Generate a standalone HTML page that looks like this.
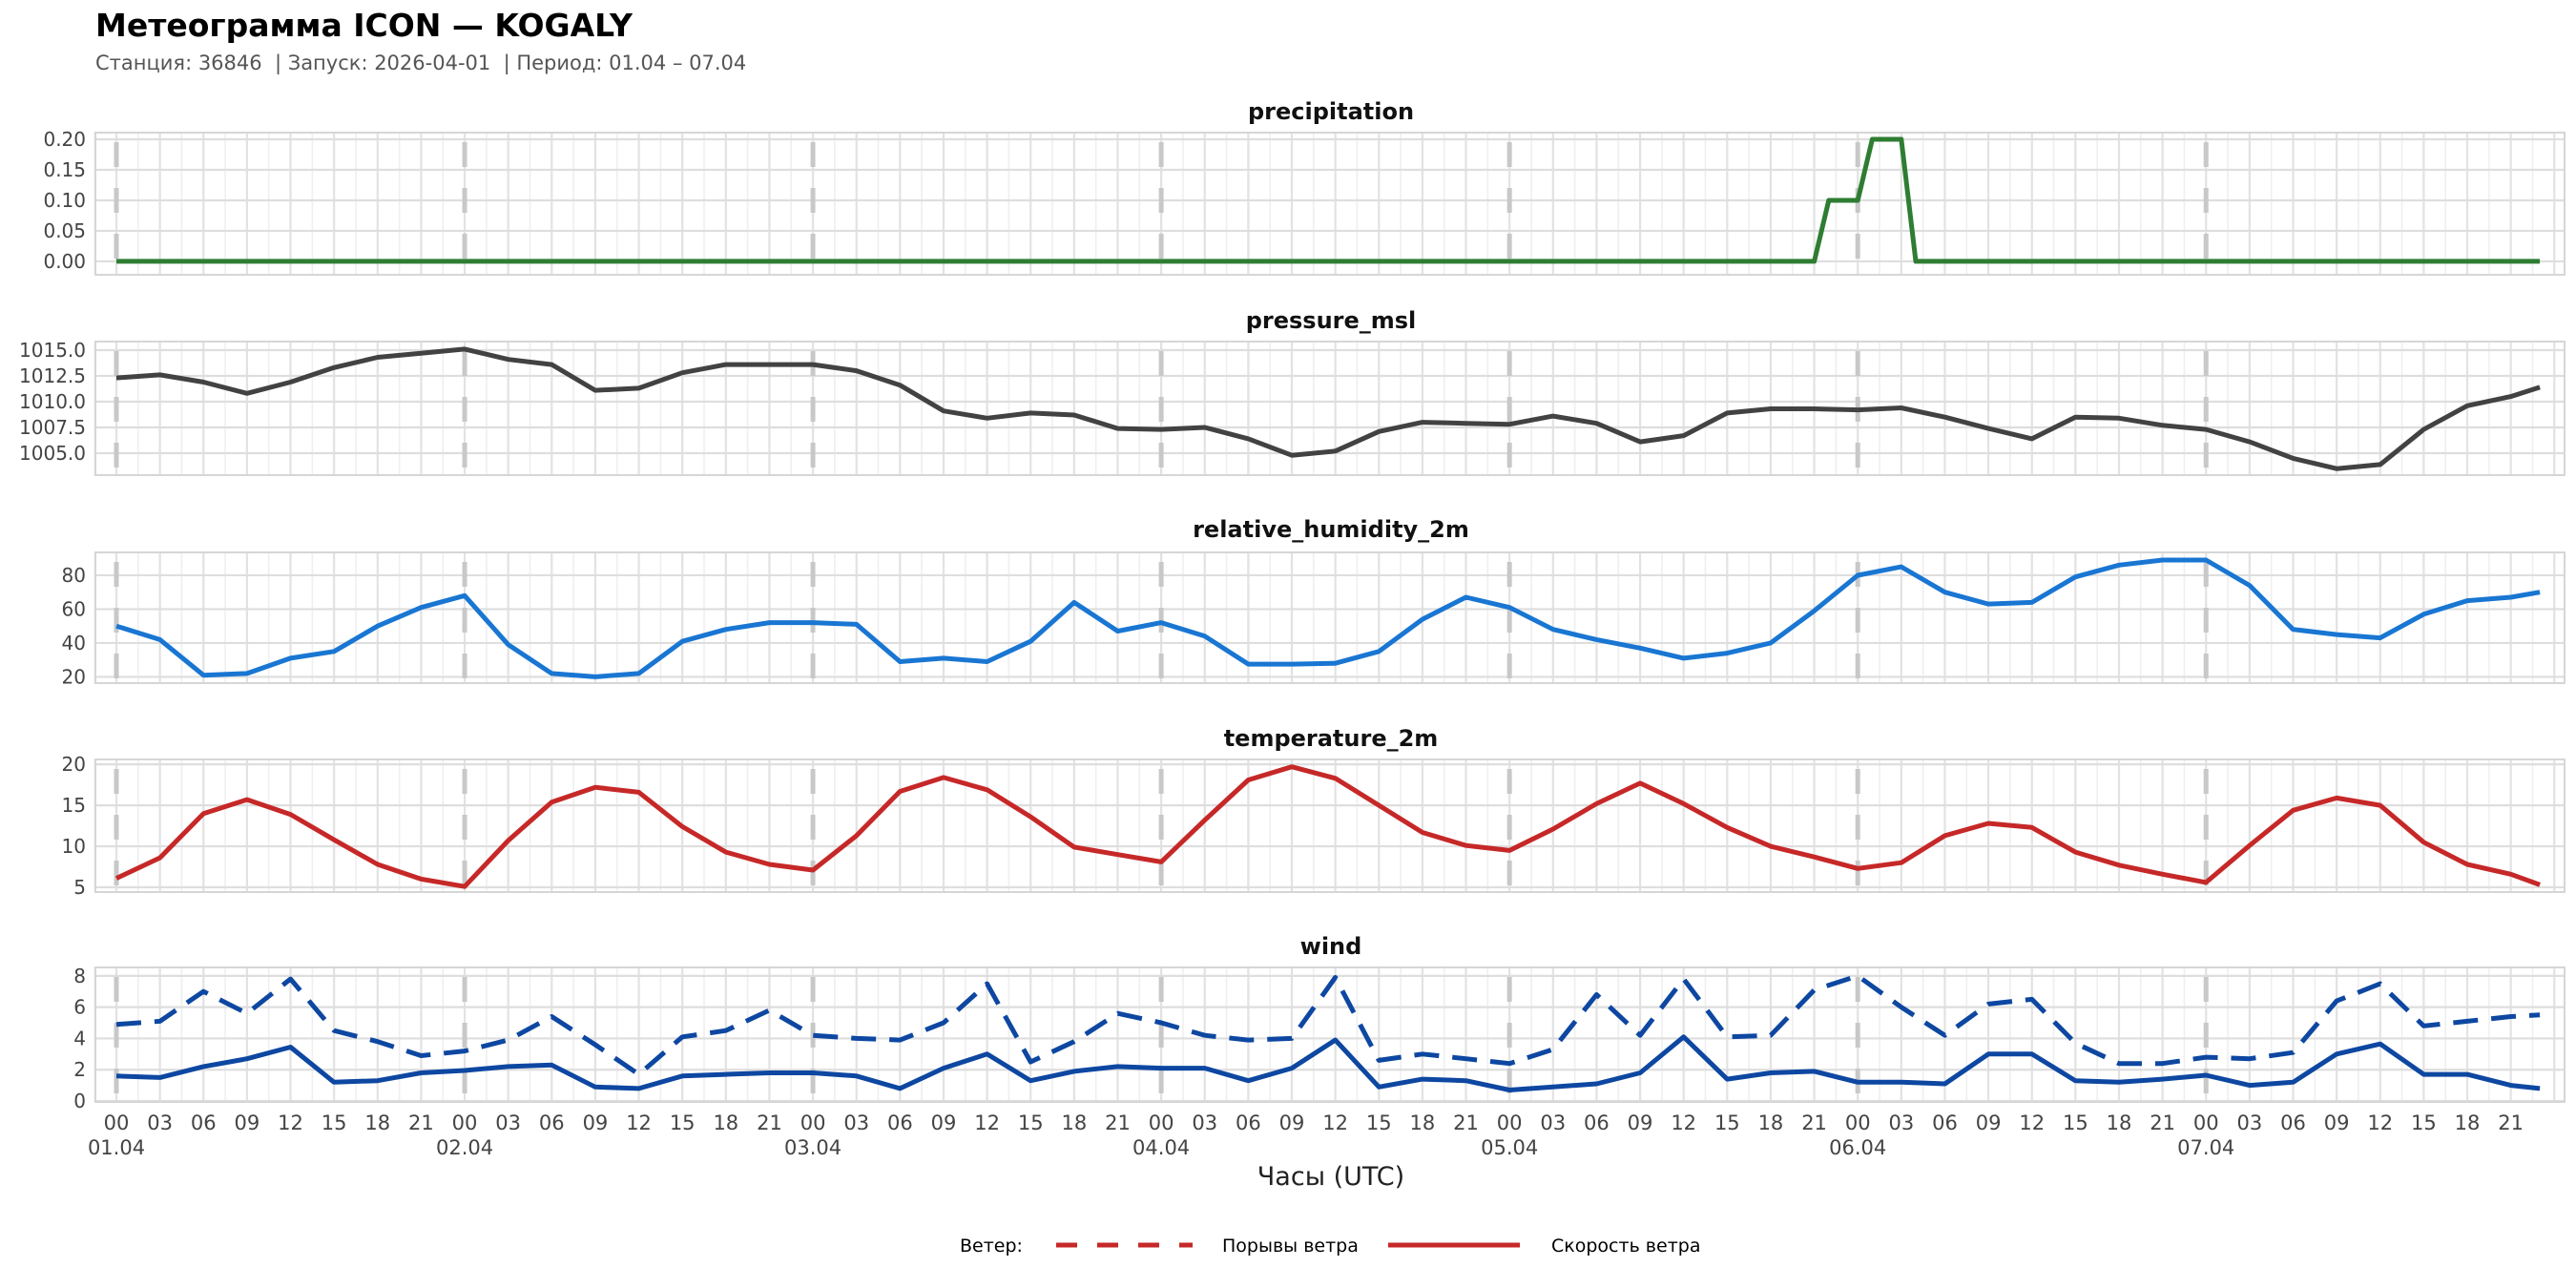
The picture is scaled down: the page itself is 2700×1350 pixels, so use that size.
<!DOCTYPE html>
<html><head><meta charset="utf-8">
<style>
html,body{margin:0;padding:0;background:#fff;}
svg{display:block;font-family:"DejaVu Sans","Liberation Sans",sans-serif;}
.pre{white-space:pre;}
</style></head>
<body>
<svg id="chart" width="2700" height="1350" viewBox="0 0 2700 1350" xmlns="http://www.w3.org/2000/svg">
<rect x="0" y="0" width="2700" height="1350" fill="#fff"/>
<text x="100" y="38" font-size="33" font-weight="bold" fill="#000">Метеограмма ICON — KOGALY</text>
<text class="pre" xml:space="preserve" x="100" y="73" font-size="21" fill="#555">Станция: 36846  | Запуск: 2026-04-01  | Период: 01.04 – 07.04</text>
<g id="panels"></g>
<text x="1395" y="1242" font-size="27" text-anchor="middle" fill="#222">Часы (UTC)</text>
<g>
<text x="1006" y="1312" font-size="19" fill="#000">Ветер:</text>
<line x1="1107" y1="1305" x2="1250" y2="1305" stroke="#c62828" stroke-width="5" stroke-dasharray="22 21"/>
<text x="1281" y="1312" font-size="19" fill="#000">Порывы ветра</text>
<line x1="1455" y1="1305" x2="1593" y2="1305" stroke="#c62828" stroke-width="5"/>
<text x="1626" y="1312" font-size="19" fill="#000">Скорость ветра</text>
</g>
</svg>
<script>
// ---- data ----
const hours3 = [0,3,6,9,12,15,18,21,24,27,30,33,36,39,42,45,48,51,54,57,60,63,66,69,72,75,78,81,84,87,90,93,96,99,102,105,108,111,114,117,120,123,126,129,132,135,138,141,144,147,150,153,156,159,162,165,167];
const precipHours = [0,117,118,120,121,123,124,167];
const precipValues = [0,0,0.1,0.1,0.2,0.2,0,0];
const pressureValues = [1012.3,1012.6,1011.9,1010.8,1011.9,1013.3,1014.3,1014.7,1015.1,1014.1,1013.6,1011.1,1011.3,1012.8,1013.6,1013.6,1013.6,1013.0,1011.6,1009.1,1008.4,1008.9,1008.7,1007.4,1007.3,1007.5,1006.4,1004.8,1005.2,1007.1,1008.0,1007.9,1007.8,1008.6,1007.9,1006.1,1006.7,1008.9,1009.3,1009.3,1009.2,1009.4,1008.5,1007.4,1006.4,1008.5,1008.4,1007.7,1007.3,1006.1,1004.5,1003.5,1003.9,1007.3,1009.6,1010.5,1011.4];
const humidityValues = [50,42,21,22,31,35,50,61,68,39,22,20,22,41,48,52,52,51,29,31,29,41,64,47,52,44,27.5,27.5,28,35,54,67,61,48,42,37,31,34,40,59,80,85,70,63,64,79,86,89,89,74,48,45,43,57,65,67,70];
const temperatureValues = [6.1,8.6,14.0,15.7,13.9,10.8,7.8,6.0,5.1,10.7,15.4,17.2,16.6,12.4,9.3,7.8,7.1,11.3,16.7,18.4,16.9,13.6,9.9,9.0,8.1,13.2,18.1,19.7,18.3,15.0,11.7,10.1,9.5,12.1,15.2,17.7,15.2,12.3,10.0,8.7,7.3,8.0,11.3,12.8,12.3,9.3,7.7,6.6,5.6,10.1,14.4,15.9,15.0,10.5,7.8,6.6,5.3];
const windSpeedValues = [1.6,1.5,2.2,2.7,3.45,1.2,1.3,1.8,1.95,2.2,2.3,0.9,0.8,1.6,1.7,1.8,1.8,1.6,0.8,2.1,3.0,1.3,1.9,2.2,2.1,2.1,1.3,2.1,3.9,0.9,1.4,1.3,0.7,0.9,1.1,1.8,4.1,1.4,1.8,1.9,1.2,1.2,1.1,3.0,3.0,1.3,1.2,1.4,1.65,1.0,1.2,3.0,3.65,1.7,1.7,1.0,0.8];
const windGustValues = [4.9,5.1,7.0,5.6,7.8,4.5,3.8,2.9,3.2,3.9,5.4,3.6,1.7,4.1,4.5,5.8,4.2,4.0,3.9,5.0,7.5,2.5,3.8,5.6,5.0,4.2,3.9,4.0,7.9,2.6,3.0,2.7,2.4,3.3,6.8,4.2,7.8,4.1,4.2,7.1,8.0,6.0,4.2,6.2,6.5,3.7,2.4,2.4,2.8,2.7,3.1,6.4,7.5,4.8,5.1,5.4,5.5];
const precipTicks = [0,0.05,0.1,0.15,0.2];
const precipTickLabels = ["0.00","0.05","0.10","0.15","0.20"];
const pressureTicks = [1005,1007.5,1010,1012.5,1015];
const pressureTickLabels = ["1005.0","1007.5","1010.0","1012.5","1015.0"];
const humidityTicks = [20,40,60,80];
const humidityTickLabels = ["20","40","60","80"];
const temperatureTicks = [5,10,15,20];
const temperatureTickLabels = ["5","10","15","20"];
const windTicks = [0,2,4,6,8];
const windTickLabels = ["0","2","4","6","8"];
const dayLabels = ["01.04","02.04","03.04","04.04","05.04","06.04","07.04"];

// ---- layout ----
const NS = "http://www.w3.org/2000/svg";
const PL = 100, PR = 2688;
const X0 = 122, PXH = 15.21;
function xScale(h){ return X0 + h*PXH; }
function mk(tag, attrs, parent){
  const e = document.createElementNS(NS, tag);
  for (const k in attrs) e.setAttribute(k, attrs[k]);
  parent.appendChild(e);
  return e;
}
const root = document.getElementById('panels');

const panels = [
  {name:'precipitation', top:139, bottom:288, vmin:-0.022, vmax:0.211, ticks:precipTicks, labels:precipTickLabels, titleY:125,
   series:[{x:precipHours, y:precipValues, color:'#2e7d32', dash:null, key:'precipitation-line'}]},
  {name:'pressure_msl', top:358, bottom:498, vmin:1002.87, vmax:1015.83, ticks:pressureTicks, labels:pressureTickLabels, titleY:344,
   series:[{x:hours3, y:pressureValues, color:'#424242', dash:null, key:'pressure-line'}]},
  {name:'relative_humidity_2m', top:579, bottom:716, vmin:16.3, vmax:93.5, ticks:humidityTicks, labels:humidityTickLabels, titleY:563,
   series:[{x:hours3, y:humidityValues, color:'#1976d2', dash:null, key:'humidity-line'}]},
  {name:'temperature_2m', top:796, bottom:935, vmin:4.42, vmax:20.6, ticks:temperatureTicks, labels:temperatureTickLabels, titleY:782,
   series:[{x:hours3, y:temperatureValues, color:'#c62828', dash:null, key:'temperature-line'}]},
  {name:'wind', top:1014, bottom:1155, vmin:-0.06, vmax:8.54, ticks:windTicks, labels:windTickLabels, titleY:1000,
   series:[{x:hours3, y:windGustValues, color:'#0d47a1', dash:'26 14', key:'wind-gust-line'},
           {x:hours3, y:windSpeedValues, color:'#0d47a1', dash:null, key:'wind-speed-line'}]}
];

panels.forEach(function(p, pi){
  const g = mk('g', {}, root);
  
  
  const yScale = function(v){ return p.bottom - (v - p.vmin)/(p.vmax - p.vmin)*(p.bottom - p.top); };
  const t = mk('text', {x:1395, y:p.titleY, 'font-size':24, 'font-weight':'bold', 'text-anchor':'middle', fill:'#111'}, g);
  t.textContent = p.name;
  
  
  for (let h = 0; h <= 169.5; h += 1.5){
    const x = xScale(h);
    if (x < PL || x > PR) continue;
    const major = (h % 3 === 0);
    const l = mk('line', {x1:x, x2:x, y1:p.top, y2:p.bottom, stroke: major ? '#e2e2e2' : '#efefef', 'stroke-width': major ? 2.2 : 1.6}, g);
    
    
  }
  const lx = mk('line', {x1:xScale(-1.5), x2:xScale(-1.5), y1:p.top, y2:p.bottom, stroke:'#efefef', 'stroke-width':1.6}, g);
  
  
  p.ticks.forEach(function(v, i){
    const y = yScale(v);
    const l = mk('line', {x1:PL, x2:PR, y1:y, y2:y, stroke:'#dedede', 'stroke-width':2.2}, g);
    
    
    const tl = mk('text', {x:90, y:y+7, 'font-size':20, 'text-anchor':'end', fill:'#444'}, g);
    tl.textContent = p.labels[i];
    
    
  });
  for (let d = 0; d < 7; d++){
    const x = xScale(d*24);
    const l = mk('line', {x1:x, x2:x, y1:p.top+10, y2:p.bottom, stroke:'#c8c8c8', 'stroke-width':5, 'stroke-dasharray':'26 22'}, g);
    
    
  }
  const b = mk('rect', {x:PL, y:p.top, width:PR-PL, height:p.bottom-p.top, fill:'none', stroke:'#d6d6d6', 'stroke-width':2}, g);
  
  
  p.series.forEach(function(s){
    let d = '';
    for (let i = 0; i < s.x.length; i++){
      d += (i ? 'L' : 'M') + xScale(s.x[i]).toFixed(1) + ',' + yScale(s.y[i]).toFixed(1);
    }
    const attrs = {d:d, fill:'none', stroke:s.color, 'stroke-width':5, 'stroke-linejoin':'round'};
    if (s.dash) attrs['stroke-dasharray'] = s.dash;
    const path = mk('path', attrs, g);
    
    
  });
  if (pi === panels.length - 1){
    for (let h = 0; h <= 165; h += 3){
      const tl = mk('text', {x:xScale(h), y:1184, 'font-size':21, 'text-anchor':'middle', fill:'#444'}, g);
      tl.textContent = String(h % 24).padStart(2, '0');
      
      
    }
    dayLabels.forEach(function(lab, i){
      const dl = mk('text', {x:xScale(i*24), y:1210, 'font-size':21, 'text-anchor':'middle', fill:'#444'}, g);
      dl.textContent = lab;
      
      
    });
  }
});
</script>
</body></html>
